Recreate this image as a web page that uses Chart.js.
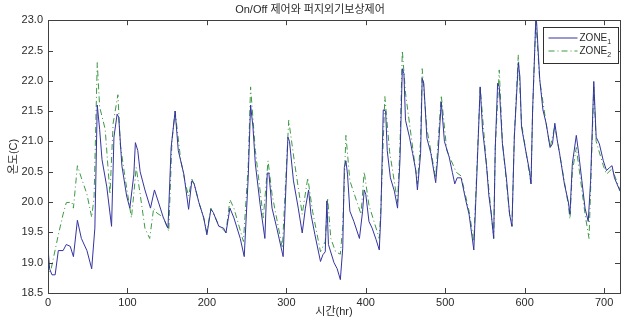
<!DOCTYPE html>
<html>
<head>
<meta charset="utf-8">
<script src="https://cdn.jsdelivr.net/npm/chart.js@4.4.0/dist/chart.umd.min.js"></script>
<style>
  html, body { margin: 0; padding: 0; background: #fff; }
  #wrap { width: 625px; height: 320px; }
</style>
</head>
<body>
<div id="wrap"><canvas id="myChart" width="625" height="320"></canvas></div>
<script>
// hours / temperature readings, ZONE1 (solid) and ZONE2 (dash-dot)
var hours1 = [0,2,5,9,13,19,23,28,32,37,42,49,55,59,62,65,68,74,80,83,87,89,93,99,103,108,110,113,116,122,129,134,139,145,151,155,160,164,171,177,181,184,190,196,200,205,208,215,221,224,229,234,242,247,252,255,258,261,267,273,276,278,282,288,296,302,304,309,315,320,324,328,331,336,343,346,349,351,353,360,364,368,371,373,375,377,380,385,392,396,398,400,404,408,413,417,419,422,425,427,431,436,440,443,446,448,450,455,459,463,465,469,471,473,477,482,488,491,495,499,505,509,512,515,520,526,530,536,540,544,547,552,555,558,561,563,566,568,572,577,581,584,587,592,594,596,602,606,608,610,614,615,619,623,627,632,635,638,641,644,650,655,657,660,665,668,672,676,680,683,687,690,694,699,703,707,710,713,720];
var zone1 = [19.25,18.9,18.8,18.8,19.2,19.2,19.3,19.27,19.1,19.7,19.4,19.2,18.9,19.57,21.6,21.2,20.7,20.25,19.6,21.07,21.45,21.4,20.6,20.1,19.9,20.45,20.98,20.85,20.5,20.2,19.9,20.2,20.0,19.75,19.57,20.9,21.5,20.85,20.46,19.88,20.35,20.3,19.99,19.74,19.46,19.88,19.83,19.6,19.57,19.49,19.9,19.74,19.4,19.1,20.4,21.6,21.24,20.63,19.96,19.4,20.48,20.48,19.9,19.57,19.1,21.07,21.0,20.35,19.9,19.49,19.9,20.2,19.8,19.46,19.02,19.13,19.18,20.02,19.3,19.0,18.9,18.72,19.24,20.57,20.68,20.46,19.85,19.68,19.4,19.85,20.2,20.13,19.68,19.57,19.38,19.21,19.8,21.52,21.5,20.85,20.4,20.18,19.9,20.68,22.2,22.12,21.35,21.07,20.8,20.52,20.2,20.8,22.04,21.96,21.05,20.8,20.32,20.8,21.65,21.0,20.74,20.49,20.3,20.4,20.4,20.02,19.8,19.21,20.52,21.9,21.2,20.6,20.1,19.8,19.4,20.9,21.96,21.9,20.96,20.4,19.8,19.6,21.07,22.3,22.07,21.24,20.8,20.52,20.3,21.52,23.0,22.97,22.02,21.52,21.3,20.9,20.96,21.3,21.02,20.8,20.3,20.0,19.8,20.63,21.1,20.8,20.35,19.9,19.68,20.35,21.99,21.07,20.96,20.68,20.52,20.57,20.6,20.4,20.18];

var hours2 = [0,2,4,13,19,23,30,32,37,42,49,55,58,62,65,72,78,82,88,91,97,105,108,111,116,122,128,133,137,145,152,156,160,167,173,177,181,184,190,196,200,205,215,224,229,234,246,252,255,261,271,277,282,295,303,310,320,327,333,343,349,352,356,362,368,371,375,380,394,398,404,417,419,424,430,440,443,446,450,465,469,471,477,488,495,502,514,520,530,536,540,544,552,558,561,563,568,572,581,584,587,592,596,602,608,610,614,619,627,632,638,644,655,657,660,665,670,676,681,683,687,690,699,703,710,720];
var zone2 = [19.0,18.85,18.9,19.46,19.8,19.99,20.0,19.9,20.6,20.4,20.13,19.75,20.08,22.3,21.57,21.2,20.13,21.3,21.77,20.95,20.4,19.74,20.13,20.57,20.13,19.57,19.4,19.9,19.82,19.75,19.52,21.0,21.5,20.7,20.3,20.1,20.38,20.3,19.99,19.74,19.5,19.9,19.62,19.5,20.04,19.9,19.35,20.6,21.9,20.85,19.74,20.68,20.13,19.24,21.35,20.68,19.8,20.4,19.85,19.18,19.35,20.07,19.4,19.18,19.14,19.6,21.1,20.35,19.8,20.5,19.95,19.4,19.9,21.74,20.83,20.0,20.9,22.5,21.8,20.3,21.0,22.2,21.2,20.4,21.76,20.85,20.49,20.43,19.85,19.35,20.6,21.9,20.6,19.8,19.4,20.9,22.18,21.0,19.8,19.6,21.1,22.43,21.3,20.8,20.3,21.5,23.0,22.0,21.3,20.9,21.25,20.8,19.95,19.72,20.5,20.9,20.4,19.8,19.4,20.2,21.9,21.0,20.6,20.46,20.55,20.2];

var seriesLabels = ["ZONE1", "ZONE2"];
var xTicks = [0,100,200,300,400,500,600,700];
var yTicks = [18.5,19,19.5,20,20.5,21,21.5,22,22.5,23];

var FONT = "'Liberation Sans', Arial, 'Noto Sans CJK KR', sans-serif";
var INK = "#2a2a2a";

function pts(xs, ys) {
    var out = [];
    for (var i = 0; i < xs.length; i++) out.push({x: xs[i], y: ys[i]});
    return out;
}

// box, inward ticks and in-plot legend, MATLAB style
var matlabBox = {
    id: "matlabBox",
    afterDraw: function(chart) {
        var ctx = chart.ctx, a = chart.chartArea;
        var xs = chart.scales.x, ys = chart.scales.y;
        ctx.save();
        ctx.strokeStyle = "#404040";
        ctx.lineWidth = 1;
        ctx.strokeRect(Math.round(a.left) + 0.5, Math.round(a.top) + 0.5,
            Math.round(a.right - a.left), Math.round(a.bottom - a.top));
        ctx.beginPath();
        xTicks.forEach(function(v) {
            var px = Math.round(xs.getPixelForValue(v)) + 0.5;
            ctx.moveTo(px, a.bottom); ctx.lineTo(px, a.bottom - 5);
            ctx.moveTo(px, a.top); ctx.lineTo(px, a.top + 5);
        });
        yTicks.forEach(function(v) {
            var py = Math.round(ys.getPixelForValue(v)) + 0.5;
            ctx.moveTo(a.left, py); ctx.lineTo(a.left + 5, py);
            ctx.moveTo(a.right, py); ctx.lineTo(a.right - 5, py);
        });
        ctx.stroke();

        // legend
        var bx = 543.5, by = 27.5, bw = 75, bh = 36;
        ctx.fillStyle = "#fff";
        ctx.fillRect(bx, by, bw, bh);
        ctx.strokeStyle = "#303030";
        ctx.strokeRect(bx, by, bw, bh);
        chart.data.datasets.forEach(function(ds, i) {
            var ly = by + 10.5 + i * 13;
            ctx.strokeStyle = ds.borderColor;
            ctx.lineWidth = 1;
            ctx.setLineDash(ds.borderDash || []);
            ctx.beginPath();
            ctx.moveTo(bx + 5, ly); ctx.lineTo(bx + 34, ly);
            ctx.stroke();
            ctx.setLineDash([]);
            var name = ds.label.slice(0, -1), sub = ds.label.slice(-1);
            ctx.fillStyle = INK;
            ctx.textBaseline = "middle";
            ctx.textAlign = "left";
            ctx.font = "10px " + FONT;
            ctx.fillText(name, bx + 36, ly);
            var w = ctx.measureText(name).width;
            ctx.font = "7px " + FONT;
            ctx.fillText(sub, bx + 36 + w, ly + 4);
        });
        ctx.restore();
    }
};

var chart = new Chart(document.getElementById("myChart").getContext("2d"), {
    type: "line",
    data: {
        datasets: [
            {
                label: seriesLabels[0],
                data: pts(hours1, zone1),
                borderColor: "#3434a0",
                borderWidth: 1,
                pointRadius: 0,
                tension: 0
            },
            {
                label: seriesLabels[1],
                data: pts(hours2, zone2),
                borderColor: "#3e9a45",
                borderWidth: 1,
                borderDash: [6, 3, 1, 3],
                pointRadius: 0,
                tension: 0
            }
        ]
    },
    options: {
        responsive: false,
        animation: false,
        layout: { padding: { left: 0, right: 5, top: 0, bottom: 0 } },
        plugins: {
            legend: { display: false },
            tooltip: { enabled: false },
            title: {
                display: true,
                text: "On/Off 제어와 퍼지외기보상제어",
                color: INK,
                font: { family: FONT, size: 11, weight: "normal" },
                padding: { top: 3, bottom: 4 }
            }
        },
        scales: {
            x: {
                type: "linear",
                min: 0, max: 720,
                grid: { display: false, drawTicks: false, tickLength: 0 },
                border: { display: false },
                afterBuildTicks: function(s) { s.ticks = xTicks.map(function(v) { return {value: v}; }); },
                afterFit: function(s) { s.height = 27; },
                ticks: { color: INK, font: { family: FONT, size: 11 }, padding: 3, maxRotation: 0 },
                title: { display: true, text: "시간(hr)", color: INK, font: { family: FONT, size: 11 }, padding: { top: 0, bottom: 1 } }
            },
            y: {
                min: 18.5, max: 23,
                grid: { display: false, drawTicks: false, tickLength: 0 },
                border: { display: false },
                afterBuildTicks: function(s) { s.ticks = yTicks.map(function(v) { return {value: v}; }); },
                afterFit: function(s) { s.width = 48; },
                ticks: { color: INK, font: { family: FONT, size: 11 }, padding: 5 },
                title: { display: true, text: "온도(C)", color: INK, font: { family: FONT, size: 11 }, padding: { top: 7, bottom: 0 } }
            }
        }
    },
    plugins: [matlabBox]
});
</script>
</body>
</html>
